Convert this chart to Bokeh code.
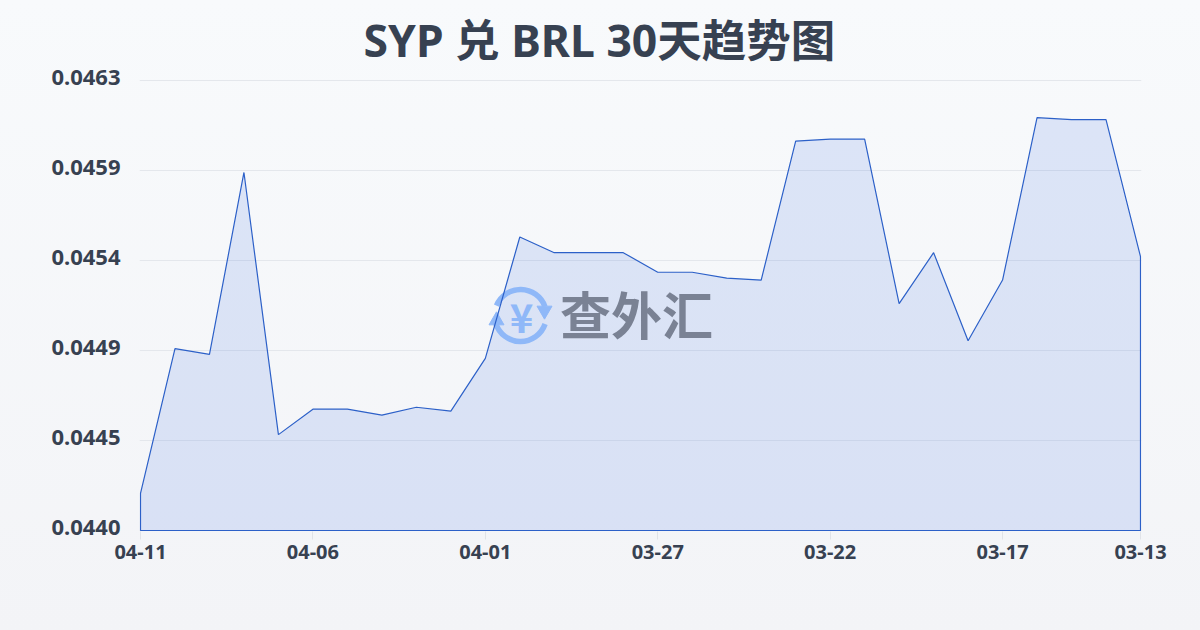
from bokeh.plotting import figure
from bokeh.embed import file_html
from bokeh.resources import INLINE
from bokeh.models import Label, FixedTicker, Range1d

title_text = "SYP 兑 BRL 30天趋势图"
watermark_text = "查外汇"
rates = [0.04419, 0.04493, 0.04490, 0.04583, 0.04449, 0.04462, 0.04462, 0.04459, 0.04463, 0.04461,
         0.04488, 0.04550, 0.04542, 0.04542, 0.04542, 0.04532, 0.04532, 0.04529, 0.04528, 0.04599,
         0.04600, 0.04600, 0.04516, 0.04542, 0.04497, 0.04528, 0.04611, 0.04610, 0.04610, 0.04540]
x_tick_index = [0, 5, 10, 15, 20, 25, 29]
x_tick_labels = ["04-11", "04-06", "04-01", "03-27", "03-22", "03-17", "03-13"]
y_ticks = [0.0440, 0.04446, 0.04492, 0.04538, 0.04584, 0.0463]
y_tick_labels = ["0.0440", "0.0445", "0.0449", "0.0454", "0.0459", "0.0463"]

CJK = "Noto Sans CJK SC"
FONT = "Noto Sans, Noto Sans CJK SC"
TEXT = "#374151"
BLUE = "#2c60c8"

W, H = 1200, 630
L, R, T, B = 140, 60, 80, 100     # nominal plot box in pixels
PAD_X, PAD_B, PAD_T = 1, 1, 10    # frame overshoot so that the outline is not clipped
y0, y1 = y_ticks[0], y_ticks[-1]
n = len(rates)
ux = (n - 1) / (W - L - R)        # data units per pixel
uy = (y1 - y0) / (H - T - B)

p = figure(width=W, height=H, output_backend="svg", toolbar_location=None,
           x_range=Range1d(0 - PAD_X * ux, n - 1 + PAD_X * ux),
           y_range=Range1d(y0 - PAD_B * uy, y1 + PAD_T * uy),
           min_border_left=L - PAD_X, min_border_right=R - PAD_X,
           min_border_top=T - PAD_T, min_border_bottom=B - PAD_B)
p.styles = {"position": "absolute", "left": "0", "top": "0",
            "background": "linear-gradient(180deg,#f8fafc 0%,#f3f4f7 100%)"}
p.background_fill_alpha = 0
p.border_fill_alpha = 0
p.outline_line_color = None

def dx(px):
    return (px - L) * ux
def dy(py):
    return y1 - (py - T) * uy
def sx(px):
    return px - (L - PAD_X)
def sy(py):
    return (H - B + PAD_B) - py

xs = list(range(n))
p.patch(xs + [n - 1, 0], rates + [y0, y0], fill_color="#2a5fe0", fill_alpha=0.135,
        line_color=None)

# watermark
ICON = "#8fb8f8"
cx, cy = 520, 315
p.arc(x=[dx(cx)], y=[dy(cy)], radius=26, radius_units="screen",
      start_angle=[0.35], end_angle=[2.75], line_color=ICON, line_width=5.5)
p.arc(x=[dx(cx)], y=[dy(cy)], radius=26, radius_units="screen",
      start_angle=[3.45], end_angle=[5.95], line_color=ICON, line_width=5.5)
p.scatter(x=[dx(cx + 24), dx(cx - 24)], y=[dy(cy - 5), dy(cy + 5)], marker="triangle",
          size=15, angle=[3.14159, 0], color=ICON)
p.add_layout(Label(x=sx(cx + 1), y=sy(cy), x_units="screen", y_units="screen", text="¥",
                   text_font=CJK, text_font_style="bold", text_font_size="40px",
                   text_color=ICON, text_align="center", text_baseline="middle"))
p.add_layout(Label(x=sx(636), y=sy(312), x_units="screen", y_units="screen", text=watermark_text,
                   text_font=CJK, text_font_style="bold", text_font_size="51px",
                   text_color="#7a8294", text_align="center", text_baseline="middle"))

p.line(xs + [n - 1, 0, 0], rates + [y0, y0, rates[0]], line_color=BLUE, line_width=1.2)

p.title.text = title_text
p.title.text_font = FONT
p.title.text_font_style = "bold"
p.title.text_font_size = "44.5px"
p.title.text_color = TEXT
p.title.align = "left"
p.title.offset = 224
p.title.standoff = 0
p.title.vertical_align = "middle"

p.xgrid.visible = False
p.ygrid.ticker = FixedTicker(ticks=y_ticks)
p.ygrid.grid_line_color = "#e4e7ec"
p.ygrid.grid_line_width = 1

p.xaxis.ticker = FixedTicker(ticks=x_tick_index)
p.xaxis.major_label_overrides = dict(zip(x_tick_index, x_tick_labels))
p.xaxis.axis_line_color = None
p.xaxis.major_tick_line_color = "#e0e3e8"
p.xaxis.major_tick_out = 8
p.xaxis.major_tick_in = 0
p.xaxis.minor_tick_line_color = None
p.xaxis.major_label_text_font = FONT
p.xaxis.major_label_text_font_style = "bold"
p.xaxis.major_label_text_font_size = "20px"
p.xaxis.major_label_text_color = TEXT
p.xaxis.major_label_standoff = 5

# tick labels sit slightly above their grid lines in the reference
y_label_ticks = [round(t + 2.5 * uy, 8) for t in y_ticks]
p.yaxis.ticker = FixedTicker(ticks=y_label_ticks)
p.yaxis.major_label_overrides = dict(zip(y_label_ticks, y_tick_labels))
p.yaxis.axis_line_color = None
p.yaxis.major_tick_line_color = None
p.yaxis.minor_tick_line_color = None
p.yaxis.major_label_text_font = FONT
p.yaxis.major_label_text_font_style = "bold"
p.yaxis.major_label_text_font_size = "22px"
p.yaxis.major_label_text_color = TEXT
p.yaxis.major_label_standoff = 13

open("out.html", "w").write(file_html(p, INLINE))
